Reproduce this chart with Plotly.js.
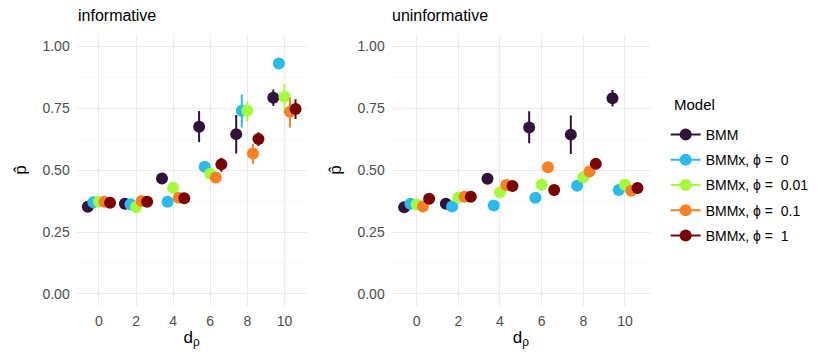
<!DOCTYPE html>
<html>
<head>
<meta charset="utf-8">
<script src="https://cdn.plot.ly/plotly-3.0.1.min.js"></script>
<style>
  body { margin: 0; background: #fff; }
  #chart { width: 830px; height: 363px; }
</style>
</head>
<body>
<div id="chart"></div>
<script>
// d_rho values and model names
const dRho = [0, 2, 4, 6, 8, 10];
const models = ["BMM", "BMMx, \u03d5 =  0", "BMMx, \u03d5 =  0.01", "BMMx, \u03d5 =  0.1", "BMMx, \u03d5 =  1"];
const colors = ["#30123B", "#28BBEC", "#A2FC3C", "#FB8022", "#7A0403"];
const dodge = [-0.6, -0.3, 0, 0.3, 0.6];

// informative panel: estimate, lower, upper
const infEst = [
  [0.352, 0.364, 0.466, 0.675, 0.645, 0.792],
  [0.370, 0.362, 0.372, 0.513, 0.739, 0.930],
  [0.372, 0.351, 0.429, 0.485, 0.739, 0.796],
  [0.372, 0.375, 0.388, 0.470, 0.567, 0.735],
  [0.368, 0.372, 0.386, 0.523, 0.625, 0.746]
];
const infLo = [
  [0.342, 0.354, 0.454, 0.612, 0.567, 0.759],
  [0.362, 0.354, 0.364, 0.503, 0.672, 0.922],
  [0.364, 0.343, 0.419, 0.475, 0.695, 0.731],
  [0.364, 0.367, 0.378, 0.460, 0.524, 0.672],
  [0.360, 0.364, 0.376, 0.493, 0.597, 0.706]
];
const infHi = [
  [0.362, 0.374, 0.478, 0.738, 0.722, 0.825],
  [0.378, 0.370, 0.380, 0.523, 0.805, 0.938],
  [0.380, 0.359, 0.439, 0.495, 0.778, 0.847],
  [0.380, 0.383, 0.398, 0.480, 0.605, 0.793],
  [0.376, 0.380, 0.396, 0.550, 0.653, 0.786]
];

// uninformative panel
const uninfEst = [
  [0.350, 0.364, 0.465, 0.672, 0.643, 0.790],
  [0.364, 0.353, 0.357, 0.388, 0.437, 0.420],
  [0.361, 0.389, 0.410, 0.441, 0.471, 0.441],
  [0.353, 0.392, 0.440, 0.511, 0.494, 0.417],
  [0.384, 0.392, 0.436, 0.420, 0.525, 0.428]
];
const uninfLo = [
  [0.340, 0.354, 0.453, 0.608, 0.565, 0.756],
  [0.356, 0.345, 0.349, 0.380, 0.429, 0.412],
  [0.353, 0.381, 0.402, 0.433, 0.463, 0.433],
  [0.345, 0.384, 0.432, 0.503, 0.486, 0.409],
  [0.376, 0.384, 0.428, 0.412, 0.505, 0.420]
];
const uninfHi = [
  [0.360, 0.374, 0.477, 0.737, 0.720, 0.823],
  [0.372, 0.361, 0.365, 0.396, 0.445, 0.428],
  [0.369, 0.397, 0.418, 0.449, 0.479, 0.449],
  [0.361, 0.400, 0.448, 0.519, 0.502, 0.425],
  [0.392, 0.400, 0.444, 0.428, 0.545, 0.436]
];

const traces = [];
function addPanel(est, lo, hi, xa, ya) {
  for (let m = 0; m < models.length; m++) {
    traces.push({
      x: dRho.map(d => d + dodge[m]),
      y: est[m],
      xaxis: xa, yaxis: ya,
      type: "scatter",
      mode: "markers",
      showlegend: false,
      marker: { color: colors[m], size: 12 },
      error_y: {
        type: "data", symmetric: false,
        array: hi[m].map((h, i) => h - est[m][i]),
        arrayminus: est[m].map((e, i) => e - lo[m][i]),
        color: colors[m], thickness: 2, width: 0
      }
    });
  }
}
addPanel(infEst, infLo, infHi, "x", "y");
addPanel(uninfEst, uninfLo, uninfHi, "x2", "y2");

// legend keys
for (let m = 0; m < models.length; m++) {
  traces.push({
    x: [null], y: [null], xaxis: "x", yaxis: "y",
    type: "scatter", mode: "lines+markers", name: models[m],
    legendgroup: "g" + m,
    marker: { color: colors[m], size: 12 },
    line: { color: colors[m], width: 2 }
  });
}

const font = "Liberation Sans, Arial, sans-serif";
const xBase = {
  range: [-1.2, 11.2], tickvals: dRho, ticktext: dRho.map(String),
  showgrid: true, gridcolor: "#EBEBEB", gridwidth: 1, zeroline: false,
  showline: false, ticks: "", ticklabelstandoff: 5,
  tickfont: { size: 14, color: "#4D4D4D", family: font },
  title: { text: "d<sub>\u03c1</sub>", font: { size: 17, color: "#000", family: font }, standoff: 2 },
  automargin: false, fixedrange: true
};
const yBase = {
  range: [-0.05, 1.05], tickvals: [0, 0.25, 0.5, 0.75, 1],
  ticktext: ["0.00", "0.25", "0.50", "0.75", "1.00"],
  showgrid: true, gridcolor: "#EBEBEB", gridwidth: 1, zeroline: false,
  showline: false, ticks: "", ticklabelstandoff: 6,
  tickfont: { size: 14, color: "#4D4D4D", family: font },
  minor: { tickvals: [0.125, 0.375, 0.625, 0.875], showgrid: true, gridcolor: "#F3F3F3", gridwidth: 0.6 },
  title: { text: "p\u0302", font: { size: 17, color: "#000", family: font }, standoff: 11 },
  automargin: false, fixedrange: true
};

const layout = {
  width: 830, height: 363,
  margin: { l: 0, r: 0, t: 0, b: 0 },
  paper_bgcolor: "#fff", plot_bgcolor: "#fff",
  font: { family: font, color: "#000" },
  xaxis: Object.assign({}, xBase, { domain: [0.0924, 0.3695], anchor: "y" }),
  yaxis: Object.assign({}, yBase, { domain: [0.156, 0.907], anchor: "x" }),
  xaxis2: Object.assign({}, xBase, { domain: [0.4719, 0.7831], anchor: "y2" }),
  yaxis2: Object.assign({}, yBase, { domain: [0.156, 0.907], anchor: "x2" }),
  showlegend: true,
  legend: {
    x: 0.802, y: 1 - 119 / 363, xanchor: "left", yanchor: "top",
    font: { size: 14, color: "#000", family: font },
    tracegroupgap: 4, traceorder: "grouped", itemwidth: 30
  },
  annotations: [
    { text: "informative", xref: "paper", yref: "paper", x: 76 / 830, y: 1 - 5 / 363,
      xanchor: "left", yanchor: "top", showarrow: false, font: { size: 16, color: "#000", family: font } },
    { text: "uninformative", xref: "paper", yref: "paper", x: 390 / 830, y: 1 - 5 / 363,
      xanchor: "left", yanchor: "top", showarrow: false, font: { size: 16, color: "#000", family: font } },
    { text: "Model", xref: "paper", yref: "paper", x: 672 / 830, y: 1 - 104 / 363,
      xanchor: "left", yanchor: "middle", showarrow: false, font: { size: 15, color: "#000", family: font } }
  ]
};

Plotly.newPlot("chart", traces, layout, { displayModeBar: false, staticPlot: true });
</script>
</body>
</html>
